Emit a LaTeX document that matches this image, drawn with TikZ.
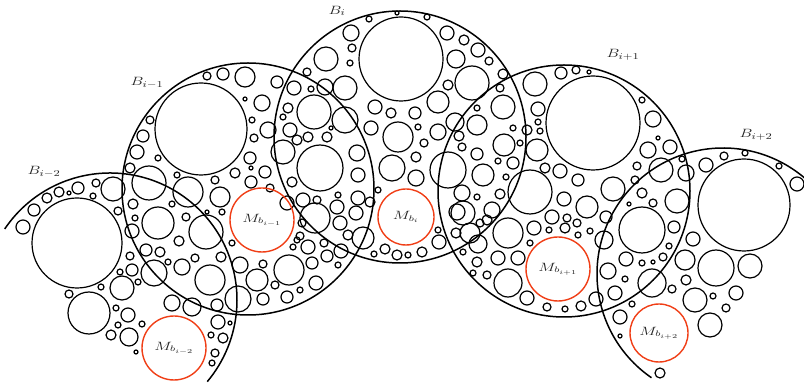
\documentclass[tikz,border=0pt]{standalone}
\usepackage{tikz}
\usepackage{graphicx}
\definecolor{mred}{RGB}{240,62,22}
\definecolor{lab}{RGB}{35,35,35}
\newcommand{\wlab}[2]{\scalebox{#1}[1]{#2}}
\begin{document}
\begin{tikzpicture}[x=1pt,y=-1pt,
  bigc/.style={line width=1.5pt},
  smallc/.style={line width=1.2pt},
  redc/.style={draw=mred,line width=1.4pt},
  blab/.style={text=lab,font=\fontsize{13}{14}\selectfont},
  mlab/.style={text=lab,font=\fontsize{12}{13}\selectfont}]
\useasboundingbox (0,0) rectangle (804,387);
\clip (0,0) rectangle (804,387);
% big circles
\draw[bigc] (248,189) circle[radius=126];
\draw[bigc] (400,137) circle[radius=126];
\draw[bigc] (564,191) circle[radius=126];
\draw[bigc] (110,300) ++(-146:127) arc[start angle=-146,end angle=40,radius=127];
\draw[bigc] (723,274) ++(124.6:126) arc[start angle=124.6,end angle=330,radius=126];
% large inner circles
\foreach \cx/\cy/\rr in {77/243/45,201/129/46,401/59/42,593/123/47,744/205/46}
  \draw[smallc] (\cx,\cy) circle[radius=\rr];
% small circles
\foreach \cx/\cy/\rr in {
23/227/7,34/210/6,47/198/5,59/192/5,69/193/2,78/188/6,96/183/4,93/196/3,113/189/12,
118/211/4,133/204/5,135/218/3,132/231/7,130/256/4,146/250/6,160/252/5,132/270/6,
120/272/3,154/273/13,168/262/3,182/267/8,195/258/4,179/241/5,101/287/3,122/288/12,
138/282/3,69/294/4,89/313/21,116/308/3,128/315/7,118/325/3,111/335/5,129/337/9,
142/324/3,136/352/2,172/303/8,192/307/9,217/305/6,210/280/15,221/257/5,240/265/8,
238/299/13,218/322/7,230/323/2,211/335/3,223/338/5,215/353/4,212/363/3}
  \draw[smallc] (\cx,\cy) circle[radius=\rr];
\foreach \cx/\cy/\rr in {
149/183/17,188/192/15,177/175/3,158/223/16,186/217/4,206/232/17,222/212/3,207/212/2,
130/168/5,137/152/7,143/136/6,150/120/4,158/158/3,207/76/4,223/74/6,245/77/10,245/99/2,
277/82/6,294/88/7,262/103/8,252/120/3,288/108/5,254/138/4,268/130/8,297/140/5,
250/158/6,251/168/2,265/172/6,283/152/12,215/180/4,235/173/5,220/197/10,251/182/6,
270/188/4,287/203/7,172/204/3,232/243/3,302/223/4,297/240/3,
257/280/11,263/264/4,263/299/6,275/285/4,289/270/15,287/297/6,300/290/3,316/283/7,
312/263/6,327/256/6,338/265/3,341/251/7}
  \draw[smallc] (\cx,\cy) circle[radius=\rr];
\foreach \cx/\cy/\rr in {
397/13/2,369/19/3,427/17/3,351/33/8,352/48/4,350/63/3,326/59/12,307/72/4,447/33/7,
464/40/5,478/50/7,489/61/4,456/59/9,503/74/5,472/83/17,448/85/5,438/102/11,500/88/4,
311/89/3,325/87/8,345/88/12,375/107/7,391/113/5,415/113/6,418/127/3,314/112/17,
283/117/3,345/120/13,331/128/2,290/130/7,308/137/5,327/137/5,371/128/7,398/137/15,
438/132/8,424/143/4,455/122/9,459/136/5,462/147/4,357/153/8,416/157/5,392/168/13,
416/178/8,477/154/6,498/161/3,504/145/11,358/175/7,358/198/7,338/195/3,378/190/3,
292/182/5,303/200/7,317/200/4,337/207/7,370/202/5,483/175/11,462/193/8,477/197/3,
315/218/15,340/223/7,356/213/7,348/235/5,363/238/11,300/236/4,293/247/3,308/247/7,
324/243/4,385/249/5,397/255/5,408/255/3,422/252/5,438/230/3,439/242/7,457/212/8,
470/233/10,374/254/3,320/168/23}
  \draw[smallc] (\cx,\cy) circle[radius=\rr];
\foreach \cx/\cy/\rr in {
561/73/6,576/70/4,589/72/2,535/84/12,538/109/7,538/122/3,540/131/3,527/130/5,537/150/11,
545/168/5,560/171/7,578/180/6,642/100/3,653/119/8,658/138/2,648/150/8,670/147/7,
637/166/4,635/180/4,613/189/12,642/193/5,629/204/2,564/199/7,587/207/11,530/192/22,
552/217/7,567/218/4,577/223/4,565/228/5,549/230/3,534/228/7,590/231/3,578/235/3,
604/240/9,508/233/15,530/243/3,487/220/5,478/244/9,463/252/3,477/262/5,498/258/7,
518/258/7,487/275/4,508/283/14,473/273/3,527/298/7,547/307/4,565/309/3,581/306/5,
596/299/7,608/271/8,503/107/12,477/108/3,477/125/10,513/128/3,
520/143/3,506/177/3,513/163/6,500/194/5,463/213/12,492/210/8,480/223/4,448/170/18,
456/233/5}
  \draw[smallc] (\cx,\cy) circle[radius=\rr];
\foreach \cx/\cy/\rr in {
745/153/3,724/156/4,706/165/7,779/166/3,797/184/7,686/173/8,682/159/3,661/170/12,
653/203/4,677/201/12,606/217/6,642/230/23,674/227/6,693/239/7,669/246/3,626/259/7,
642/263/3,653/262/2,663/257/4,685/260/10,716/268/18,750/266/12,625/279/3,652/283/14,
672/289/4,686/280/5,695/300/12,713/296/3,736/293/7,726/308/4,710/325/12,615/293/7,
632/304/3,620/317/7,620/336/2,660/373/5}
  \draw[smallc] (\cx,\cy) circle[radius=\rr];
% red circles
\node[redc,circle,minimum size=64pt,inner sep=0pt,mlab] (m2) at (174,348) {\wlab{1.4}{$M_{b_{i-2}}$}};
\node[redc,circle,minimum size=64pt,inner sep=0pt,mlab] (m1) at (262,220) {\wlab{1.4}{$M_{b_{i-1}}$}};
\node[redc,circle,minimum size=56pt,inner sep=0pt,mlab] (m0) at (406,217) {\wlab{1.4}{$M_{b_{i}}$}};
\node[redc,circle,minimum size=64pt,inner sep=0pt,mlab] (p1) at (558,269) {\wlab{1.4}{$M_{b_{i+1}}$}};
\node[redc,circle,minimum size=58pt,inner sep=0pt,mlab] (p2) at (659,333) {\wlab{1.4}{$M_{b_{i+2}}$}};
% labels
\node[blab] (l2) at (44,172) {\wlab{1.35}{$B_{i-2}$}};
\node[blab] (l1) at (147,83) {\wlab{1.35}{$B_{i-1}$}};
\node[blab] (l0) at (337,11) {\wlab{1.35}{$B_{i}$}};
\node[blab] (l3) at (623,55) {\wlab{1.35}{$B_{i+1}$}};
\node[blab] (l4) at (756,135) {\wlab{1.35}{$B_{i+2}$}};
\end{tikzpicture}
\end{document}
